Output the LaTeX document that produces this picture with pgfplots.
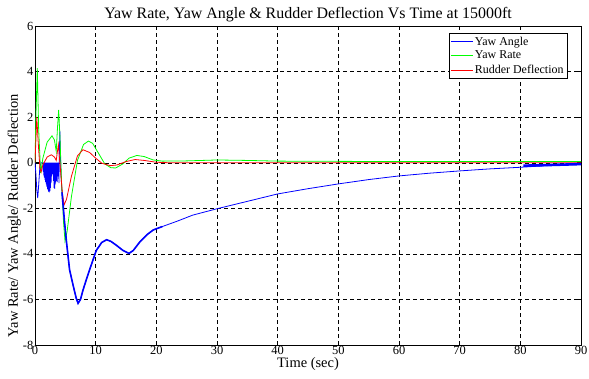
\documentclass[border=0pt]{standalone}
\usepackage{pgfplots}
\pgfplotsset{compat=1.18}
\usepackage{pgfplotstable}
\usepackage{fontspec}
\setmainfont{Liberation Serif}

\pgfplotstableread{
t v
0 0
0.15 -0.5
0.3 -1.2
0.45 -1.55
0.6 -1.0
0.8 -0.2
1.0 0
1.2 0
1.30 0
1.35 -0.4
1.40 0
1.45 -0.55
1.50 0
1.55 -0.65
1.60 0
1.65 -0.75
1.70 0
1.75 -0.85
1.80 0
1.85 -0.95
1.90 0
1.95 -1.05
2.00 0
2.05 -1.15
2.10 0
2.15 -1.2
2.20 0
2.25 -1.27
2.30 0
2.35 -1.3
2.40 0
2.45 -1.25
2.50 0
2.55 -1.1
2.60 0
2.65 -0.9
2.70 0
2.75 -0.6
2.80 0
2.85 -0.45
2.90 0
2.95 -0.5
3.00 0
3.05 -0.8
3.10 0
3.15 -1.1
3.20 0
3.25 -1.15
3.30 0
3.35 -0.95
3.40 0
3.45 -0.8
3.50 0
3.55 -0.7
3.60 0
3.65 -0.85
3.70 0
3.75 -0.6
3.80 0
3.85 -0.5
3.90 0
3.95 -0.9
4.00 0.2
4.10 1.37
4.20 0.3
4.30 -0.6
4.45 -1.3
4.6 -1.77
4.9 -2.7
5.2 -3.5
5.7 -4.7
6.3 -5.4
6.8 -5.95
7.1 -6.17
7.5 -6.0
7.9 -5.6
8.5 -5.1
9.0 -4.7
10.1 -3.85
11.0 -3.5
11.8 -3.38
12.5 -3.45
13.4 -3.62
14.5 -3.85
15.5 -3.98
16.2 -3.85
17.3 -3.47
18.5 -3.15
19.5 -2.95
21 -2.8
23.4 -2.57
26 -2.3
30 -2.02
35.4 -1.67
40 -1.37
45 -1.14
50 -0.93
55 -0.74
60 -0.58
65 -0.46
70 -0.36
75 -0.27
80 -0.2
85 -0.12
90 -0.07
}\yawangle

\pgfplotstableread{
t v
4.45 -1.3
4.6 -1.77
4.9 -2.7
5.2 -3.5
5.7 -4.7
6.3 -5.4
6.8 -5.95
7.1 -6.17
7.5 -6.0
7.9 -5.6
8.5 -5.1
9.0 -4.7
10.1 -3.85
11.0 -3.5
11.8 -3.38
12.5 -3.45
13.4 -3.62
14.5 -3.85
15.5 -3.98
16.2 -3.85
17.3 -3.47
18.5 -3.15
19.5 -2.95
21 -2.8
}\yawthick

\pgfplotstableread{
t v
80.5 -0.13
85 -0.1
90 -0.06
}\yawband

\pgfplotstableread{
t v
0 0
0.15 2.0
0.38 4.15
0.6 1.5
0.93 -0.45
1.3 0.2
2.0 0.9
2.8 1.18
3.2 1.0
3.5 0.5
3.7 1.5
3.9 2.32
4.1 1.2
4.4 -1.0
4.7 -2.6
4.95 -3.45
5.3 -3.0
6.0 -1.5
7.0 0.1
8.0 0.8
8.8 0.95
9.5 0.85
10.5 0.4
11.5 -0.05
12.5 -0.22
13.3 -0.23
14.5 -0.05
15.5 0.2
16.8 0.32
18 0.27
19.5 0.12
21 0.07
25 0.08
30 0.12
35 0.1
40 0.07
50 0.06
60 0.05
90 0.05
}\yawrate

\pgfplotstableread{
t v
0 0
0.15 1.0
0.3 2.0
0.5 1.0
0.8 -0.2
1.0 -0.42
1.3 -0.1
2.0 0.25
2.7 0.35
3.2 0.25
3.5 0.1
3.7 0.5
3.85 0.79
4.1 0
4.5 -1.3
4.8 -1.85
5.2 -1.6
6.0 -0.6
7.0 0.3
7.9 0.57
9.0 0.45
10 0.2
11 -0.02
12.4 -0.13
13.5 -0.1
15 0.05
16.5 0.14
18 0.1
20 0.02
22 0
90 0
}\rudder

\begin{document}
\begin{tikzpicture}
\begin{axis}[name=ax, scale only axis, width=546bp, height=319bp,
  xmin=0, xmax=90, ymin=-8, ymax=6,
  xtick={0,10,...,90}, ytick={-8,-6,...,6},
  tick align=inside, major tick length=4bp,
  grid=major,
  major grid style={black, line width=0.4pt, dash pattern=on 4bp off 3bp},
  axis line style={black, line width=0.6pt},
  tick style={black, line width=0.5pt},
  tick label style={font=\fontsize{12.5}{14}\selectfont, inner sep=1.5bp},
  /pgf/number format/assume math mode=true,
  title={Yaw Rate, Yaw Angle \& Rudder Deflection Vs Time at 15000ft},
  title style={font=\fontsize{16}{18}\selectfont, yshift=-5bp},
  xlabel={Time (sec)},
  ylabel={Yaw Rate/ Yaw Angle/ Rudder Deflection},
  label style={font=\fontsize{14.5}{16}\selectfont},
  xlabel style={inner sep=0.5bp},
  ylabel style={at={(ticklabel cs:0.405)}, yshift=-3bp},
  legend style={at={(0.975,0.978)}, anchor=north east,
    font=\fontsize{12}{14}\selectfont, draw=black, line width=0.6pt,
    inner sep=1.5bp, row sep=0.5bp, cells={anchor=west}},
  legend image code/.code={\draw[#1, line width=0.6pt] (0cm,0cm) -- (0.75cm,0cm);},
]
\addplot[blue, line width=0.8pt] table[x=t, y=v] {\yawangle};
\addlegendentry{Yaw Angle}
\addplot[green, line width=0.8pt] table[x=t, y=v] {\yawrate};
\addlegendentry{Yaw Rate}
\addplot[red, line width=0.8pt] table[x=t, y=v] {\rudder};
\addlegendentry{Rudder Deflection}
\addplot[blue, line width=1.6pt, forget plot] table[x=t, y=v] {\yawthick};
\addplot[blue, line width=2.6pt, forget plot] table[x=t, y=v] {\yawband};
\end{axis}
\pgfresetboundingbox
\path ([shift={(-35bp,-33bp)}]ax.south west) rectangle ([shift={(8bp,26bp)}]ax.north east);
\end{tikzpicture}
\end{document}
